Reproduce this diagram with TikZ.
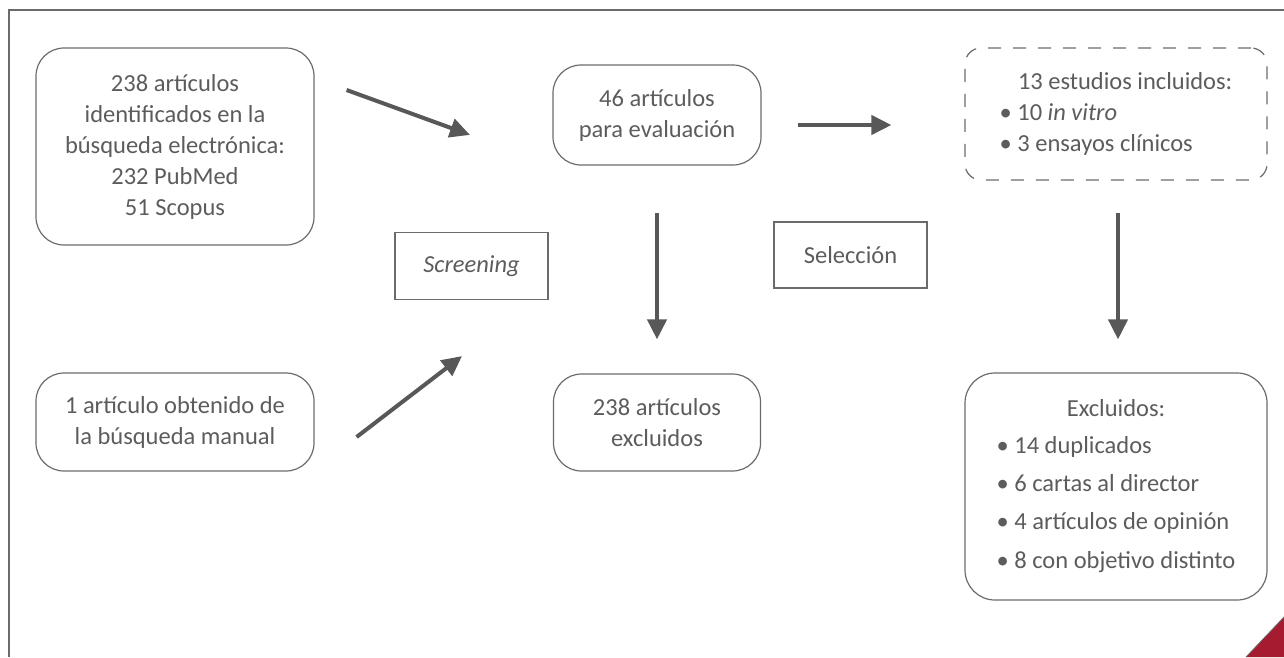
\documentclass[tikz,border=0pt]{standalone}
\usepackage{fontspec}
\setmainfont{Carlito}
\usetikzlibrary{arrows.meta}
\usetikzlibrary{calc}
\definecolor{txtgray}{HTML}{5C5C5C}
\definecolor{linegray}{HTML}{6B6B6B}
\definecolor{arrowgray}{HTML}{585858}
\definecolor{cornerred}{HTML}{A51C30}

\begin{document}
\begin{tikzpicture}[x=1pt, y=-1pt,
    font=\fontsize{24.5}{31}\selectfont,
    box/.style={draw=linegray, line width=1.2pt, rounded corners=28pt, align=center, text=txtgray, inner sep=0pt},
    dashbox/.style={box, dash pattern=on 13pt off 12pt, rounded corners=16pt},
    stagebox/.style={draw=linegray, line width=1.2pt, text=txtgray, inner sep=0pt},
    flow/.style={draw=arrowgray, line width=4pt, -{Triangle[length=20pt, width=19pt]}}]
    \useasboundingbox (0,0) rectangle (1284,657);

    % frame and corner
    \draw[linegray, line width=2pt] (9,657) -- (9,10) -- (1284,10);
    \fill[cornerred] (1284,617) -- (1284,657) -- (1246,657) -- cycle;
    \draw[linegray, line width=0.8pt] (1246,657) -- (1284,617);

    % identification
    \node[box, minimum width=278pt, minimum height=197pt] (elec) at (175,146.5)
        {238 artículos\\identificados en la\\búsqueda electrónica:\\232 PubMed\\51 Scopus};
    \node[box, minimum width=278pt, minimum height=98pt] (manual) at (175,422)
        {1 artículo obtenido de\\la búsqueda manual};

    % screening
    \node[stagebox, minimum width=153pt, minimum height=67pt] (scr) at (471.5,266) {\textit{Screening}};
    \node[box, minimum width=208pt, minimum height=100pt] (eval) at (657,115)
        {46 artículos\\para evaluación};
    \node[box, minimum width=207pt, minimum height=97pt] (excl) at (657,422.5)
        {238 artículos\\excluidos};

    % selection
    \node[stagebox, minimum width=153pt, minimum height=66pt] (sel) at (850.5,255) {Selección};
    \node[dashbox, minimum width=302pt, minimum height=132pt] (incl) at (1116,114)
        {\begin{tabular}{@{}l@{}}\hspace*{0.75em}13 estudios incluidos:\\ • 10 \textit{in vitro}\\ • 3 ensayos clínicos\end{tabular}};
    \node[box, rounded corners=30pt, minimum width=302pt, minimum height=227pt] (out) at (1116,486.5)
        {\begin{tabular}{@{}l@{}}\multicolumn{1}{@{}c@{}}{Excluidos:}\\[6pt] • 14 duplicados\\[7pt] • 6 cartas al director\\[7pt] • 4 artículos de opinión\\[8pt] • 8 con objetivo distinto\end{tabular}};

    % arrows
    \draw[flow] ($(elec.east)+(32,-56.5)$) -- ($(scr.north)+(-1.5,-97)$);
    \draw[flow] ($(manual.east)+(42,15)$) -- ($(scr.south)+(-9.5,56)$);
    \draw[flow] ($(eval.south)+(0,47)$) -- ($(excl.north)+(0,-34)$);
    \draw[flow] ($(eval.east)+(36,10)$) -- ($(incl.west)+(-73,11)$);
    \draw[flow] ($(incl.south)+(2,32)$) -- ($(out.north)+(2,-33)$);
\end{tikzpicture}
\end{document}
